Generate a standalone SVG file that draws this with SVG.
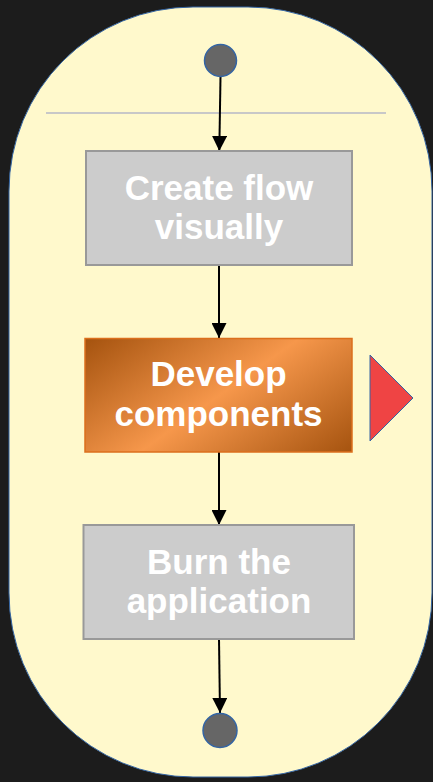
<svg xmlns="http://www.w3.org/2000/svg" width="433" height="782" viewBox="0 0 433 782">
  <style>
    .box { fill: #cccccc; stroke: #999999; stroke-width: 2; }
    .lbl { font-family: "Liberation Sans", Arial, sans-serif; font-weight: bold; font-size: 35px; fill: #ffffff; text-anchor: middle; }
    .term { fill: #666666; stroke: #3465a4; stroke-width: 1.5; }
    .conn { stroke: #000000; stroke-width: 2; fill: none; marker-end: url(#arrow); }
  </style>
  <defs>
    <marker id="arrow" viewBox="0 0 15 15" refX="15" refY="7.5" markerWidth="15" markerHeight="15" markerUnits="userSpaceOnUse" orient="auto">
      <path d="M0,0 L15,7.5 L0,15 Z" fill="#000000"/>
    </marker>
    <linearGradient id="orange" gradientUnits="userSpaceOnUse" x1="147.5" y1="293" x2="292.5" y2="497">
      <stop offset="0" stop-color="#a4520e"/>
      <stop offset="0.5" stop-color="#f6974b"/>
      <stop offset="1" stop-color="#a4520e"/>
    </linearGradient>
  </defs>
  <rect x="0" y="0" width="433" height="782" fill="#1c1c1c"/>
  <g id="pool">
    <rect x="9" y="7" width="423" height="770" rx="184" ry="184" fill="#fff9cc" stroke="#3465a4" stroke-width="1"/>
    <line x1="46" y1="113" x2="386" y2="113" stroke="#c8c8c8" stroke-width="2"/>
  </g>
  <g id="connectors">
    <line class="conn" x1="220.5" y1="77" x2="219.3" y2="151"/>
    <line class="conn" x1="219" y1="265" x2="219" y2="338"/>
    <line class="conn" x1="219" y1="452" x2="219" y2="525"/>
    <line class="conn" x1="219" y1="639" x2="220" y2="713"/>
  </g>
  <g id="start">
    <circle class="term" cx="220.5" cy="60.5" r="16"/>
  </g>
  <g id="create-flow">
    <rect class="box" x="86" y="151" width="266" height="114"/>
    <text class="lbl" x="219" y="200">Create flow</text>
    <text class="lbl" x="219" y="239">visually</text>
  </g>
  <g id="develop">
    <rect x="85" y="338.5" width="267" height="113.5" fill="url(#orange)" stroke="#dc6f1c" stroke-width="1.5"/>
    <text class="lbl" x="218.5" y="386">Develop</text>
    <text class="lbl" x="218.5" y="426">components</text>
  </g>
  <g id="marker-triangle">
    <polygon points="370,355 413,398 370,441" fill="#ef4444" stroke="#3465a4" stroke-width="1"/>
  </g>
  <g id="burn">
    <rect class="box" x="83.5" y="525" width="270.5" height="114"/>
    <text class="lbl" x="219" y="574">Burn the</text>
    <text class="lbl" x="219" y="613">application</text>
  </g>
  <g id="end">
    <circle class="term" cx="220" cy="730.5" r="17"/>
  </g>
</svg>
